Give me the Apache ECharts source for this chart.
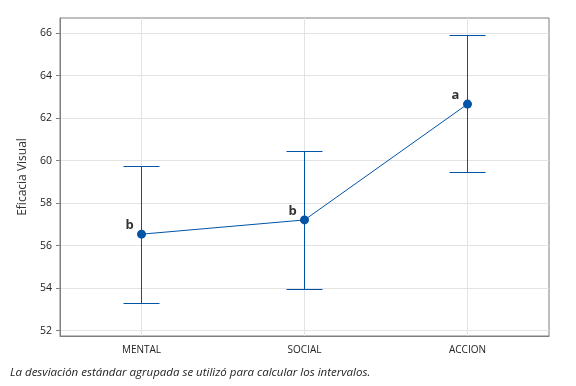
<!DOCTYPE html>
<html><head><meta charset="utf-8">
<script src="https://cdn.jsdelivr.net/npm/echarts@6/dist/echarts.min.js"></script>
<style>html,body{margin:0;padding:0;background:#fff}#c{width:576px;height:386px}</style>
</head><body><div id="c"></div>
<script>
const categories = ['MENTAL', 'SOCIAL', 'ACCION'];
const means = [56.54, 57.21, 62.66];
const lower = [53.29, 53.95, 59.46];
const upper = [59.76, 60.45, 65.93];
const groupLetters = ['b', 'b', 'a'];
const yTicks = [52, 54, 56, 58, 60, 62, 64, 66];
const yName = 'Eficacia Visual';
const footnote = 'La desviación estándar agrupada se utilizó para calcular los intervalos.';

const FONT = '"Open Sans", "Noto Sans", sans-serif';
const BLUE = '#0054A6';
const chart = echarts.init(document.getElementById('c'));
const errData = categories.map((c, i) => [i, lower[i], upper[i]]);
chart.setOption({
  animation: false,
  grid: { left: 60, right: 27, top: 18, bottom: 50, show: true, borderColor: '#7f7f7f', borderWidth: 1, backgroundColor: '#fff' },
  xAxis: {
    type: 'category', data: categories, boundaryGap: true,
    axisLine: { lineStyle: { color: '#7f7f7f' } },
    axisTick: { alignWithLabel: true, length: 4, lineStyle: { color: '#7f7f7f' } },
    axisLabel: { color: '#222', fontFamily: FONT, fontSize: 10, margin: 9 },
    splitLine: { show: false }
  },
  yAxis: {
    type: 'value', min: 51.75, max: 66.71, interval: 2,
    name: yName, nameLocation: 'middle', nameGap: 31, nameRotate: 90,
    nameTextStyle: { color: '#333', fontFamily: FONT, fontSize: 12 },
    axisLine: { show: true, lineStyle: { color: '#7f7f7f' } },
    axisTick: { show: true, length: 4, lineStyle: { color: '#7f7f7f' }, customValues: yTicks },
    axisLabel: { color: '#222', fontFamily: FONT, fontSize: 10.5, margin: 8, customValues: yTicks },
    splitLine: { lineStyle: { color: '#e3e3e3' } }
  },
  graphic: [{
    type: 'text', left: 10, top: 367,
    style: { text: footnote, fill: '#222', font: 'italic 11.5px ' + FONT }
  }],
  series: [
    {
      type: 'custom', z: 3,
      renderItem: function (params, api) {
        const x = api.value(0);
        const lo = api.coord([x, api.value(1)]);
        const hi = api.coord([x, api.value(2)]);
        const cs = params.coordSys;
        const px = Math.floor(lo[0]) + 0.5;
        const ly = Math.round(lo[1]) + 0.5;
        const hy = Math.round(hi[1]) + 0.5;
        const hw = 18;
        const st = { stroke: BLUE, lineWidth: 1 };
        return { type: 'group', children: [
          { type: 'line', shape: { x1: px, y1: cs.y, x2: px, y2: cs.y + cs.height }, style: { stroke: '#e3e3e3', lineWidth: 1 } },
          { type: 'line', shape: { x1: px, y1: ly, x2: px, y2: hy }, style: st },
          { type: 'line', shape: { x1: px - hw, y1: ly, x2: px + hw, y2: ly }, style: st },
          { type: 'line', shape: { x1: px - hw, y1: hy, x2: px + hw, y2: hy }, style: st }
        ]};
      },
      data: errData
    },
    {
      type: 'line', data: means.map((v, i) => ({ value: v, label: { formatter: groupLetters[i] } })), z: 4,
      symbol: 'circle', symbolSize: 9,
      itemStyle: { color: BLUE },
      lineStyle: { color: BLUE, width: 1 },
      label: { show: true, position: 'top', distance: 0, offset: [-12, 2], color: '#333', fontFamily: FONT, fontWeight: 'bold', fontSize: 13 }
    }
  ]
});
</script></body></html>
